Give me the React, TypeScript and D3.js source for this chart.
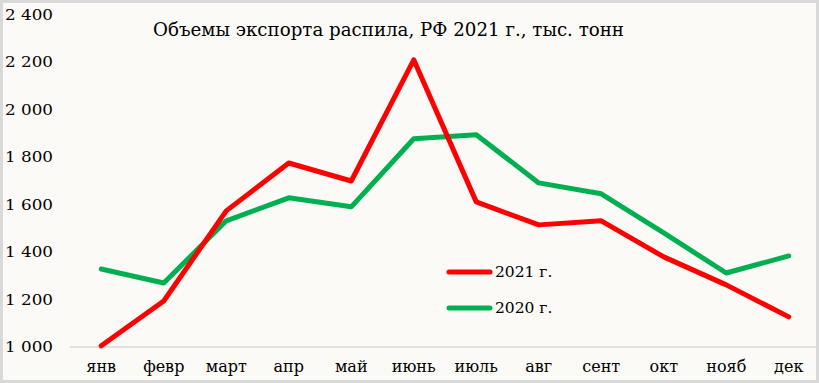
import React from "react";
import * as d3 from "d3";

const months = ["янв", "февр", "март", "апр", "май", "июнь", "июль", "авг", "сент", "окт", "нояб", "дек"];
const values2021 = [1005, 1194, 1574, 1776, 1700, 2211, 1612, 1515, 1532, 1380, 1262, 1127];
const values2020 = [1329, 1270, 1532, 1629, 1591, 1878, 1895, 1692, 1646, 1481, 1312, 1384];
const yTicks = [1000, 1200, 1400, 1600, 1800, 2000, 2200, 2400];
const title = "Объемы экспорта распила, РФ 2021 г., тыс. тонн";
const seriesNames = ["2021 г.", "2020 г."];

const W = 819;
const H = 383;
const FONT = "'DejaVu Serif', 'Liberation Serif', serif";

export default function App() {
  const x = d3.scaleBand<string>().domain(months).range([70, 820]).padding(0);
  const y = d3.scaleLinear().domain([1000, 2400]).range([347, 15]);
  const cx = (m: string) => (x(m) as number) + x.bandwidth() / 2;
  const line = d3
    .line<number>()
    .x((_, i) => cx(months[i]))
    .y((v) => y(v))
    .curve(d3.curveLinear);

  const fmt = (v: number) => {
    const s = String(v);
    return s.length > 3 ? s.slice(0, s.length - 3) + " " + s.slice(-3) : s;
  };

  const legend = [
    { name: seriesNames[0], color: "#FF0000", y: 272 },
    { name: seriesNames[1], color: "#00B050", y: 308 },
  ];

  return (
    <svg
      width={W}
      height={H}
      style={{ position: "fixed", left: 0, top: 0, display: "block" }}
      fontFamily={FONT}
    >
      <rect x={0} y={0} width={W} height={H} fill="#FBFAF6" />
      <rect x={1.5} y={1.5} width={W - 3} height={H - 3} fill="none" stroke="#D9D9D9" strokeWidth={3} />
      <text x={153} y={36} fontSize={19} fill="#000" textLength={471} lengthAdjust="spacingAndGlyphs">
        {title}
      </text>
      {yTicks.map((t) => (
        <text key={t} x={5} y={y(t) + 5} fontSize={15.5} fill="#000" textLength={48} lengthAdjust="spacingAndGlyphs">
          {fmt(t)}
        </text>
      ))}
      <line x1={70} x2={816} y1={y(1000)} y2={y(1000)} stroke="#D9D9D9" strokeWidth={1.5} />
      {months.map((m) => (
        <text key={m} x={cx(m)} y={372} fontSize={16} textAnchor="middle" fill="#000">
          {m}
        </text>
      ))}
      <path d={line(values2020) || ""} fill="none" stroke="#00B050" strokeWidth={5} strokeLinejoin="round" strokeLinecap="round" />
      <path d={line(values2021) || ""} fill="none" stroke="#FF0000" strokeWidth={5} strokeLinejoin="round" strokeLinecap="round" />
      {legend.map((l) => (
        <g key={l.name}>
          <line x1={449} x2={490} y1={l.y} y2={l.y} stroke={l.color} strokeWidth={5} strokeLinecap="round" />
          <text x={495} y={l.y + 5} fontSize={15.5} fill="#000">
            {l.name}
          </text>
        </g>
      ))}
    </svg>
  );
}
